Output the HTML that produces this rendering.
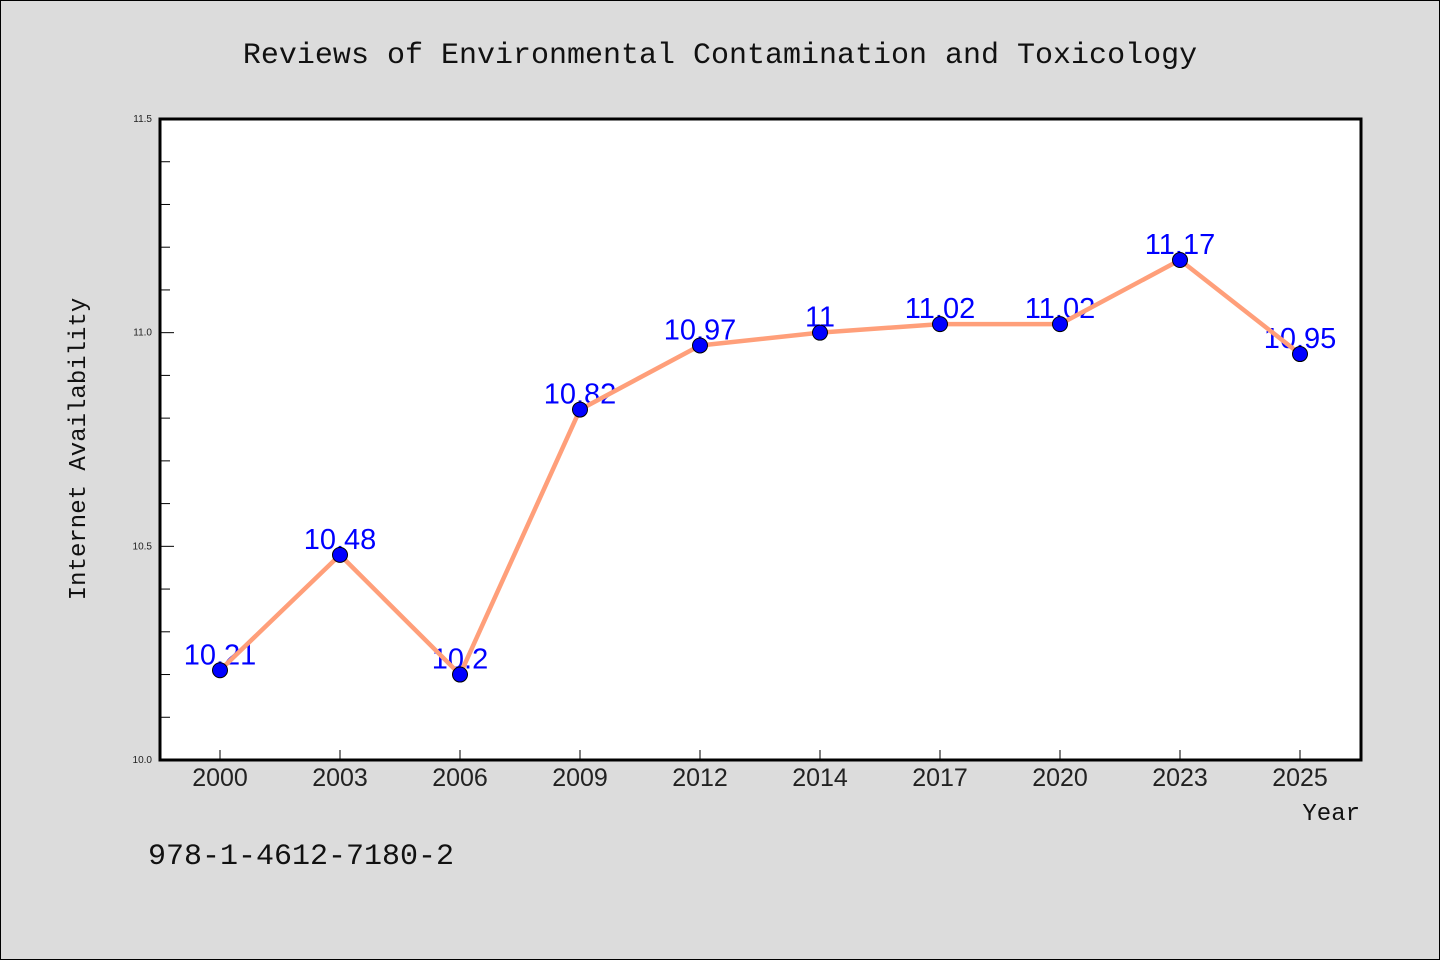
<!DOCTYPE html>
<html><head><meta charset="utf-8"><style>
html,body{margin:0;padding:0;background:#dcdcdc}
svg{display:block;font-family:"Liberation Sans",sans-serif}
.mono{font-family:"Liberation Mono",monospace}
</style></head><body>
<svg id="c" width="1440" height="960">
<rect x="0.5" y="0.5" width="1439" height="959" fill="#dcdcdc" stroke="#000"/>
<text class="mono" x="720" y="63" text-anchor="middle" font-size="30" fill="#111">Reviews of Environmental Contamination and Toxicology</text>
<rect x="160" y="119" width="1201" height="641" fill="#fff"/>
<g id="g"></g>
<rect x="160" y="119" width="1201" height="641" fill="none" stroke="#000" stroke-width="3"/>
<text class="mono" x="85" y="449" transform="rotate(-90 85 449)" text-anchor="middle" font-size="24" fill="#111">Internet Availability</text>
<text class="mono" x="1360" y="820" text-anchor="end" font-size="24" fill="#111">Year</text>
<text class="mono" x="148" y="864" font-size="30" fill="#111">978-1-4612-7180-2</text>
</svg>
<script>
const categories=["2000","2003","2006","2009","2012","2014","2017","2020","2023","2025"];
const values=[10.21,10.48,10.2,10.82,10.97,11,11.02,11.02,11.17,10.95];
const labels=["10.21","10.48","10.2","10.82","10.97","11","11.02","11.02","11.17","10.95"];
const yTicks=["10.0","10.5","11.0","11.5"];
const ns="http://www.w3.org/2000/svg";
const g=document.getElementById('g');
const x0=160,x1=1361,yTop=119,yBot=760,ymin=10,ymax=11.5;
const xs=i=>220+i*120;
const ys=v=>yBot-(v-ymin)/(ymax-ymin)*(yBot-yTop);
function mk(t,a){const e=document.createElementNS(ns,t);for(const k in a)e.setAttribute(k,a[k]);g.appendChild(e);return e;}
for(let k=0;k<=15;k++){const v=ymin+k*0.1;const y=ys(v);const maj=k%5===0;
 const t=mk('line',{x1:x0,x2:x0+(maj?14:10),y1:y,y2:y,stroke:'#000','stroke-width':1});
 
 }
yTicks.forEach(s=>{const e=mk('text',{x:152,y:ys(+s)+3,'text-anchor':'end','font-size':10,fill:'#222'});e.textContent=s;
 
 });
categories.forEach((c,i)=>{const t=mk('line',{x1:xs(i),x2:xs(i),y1:yBot,y2:yBot-10,stroke:'#000','stroke-width':1});
 
 
 const e=mk('text',{x:xs(i),y:786,'text-anchor':'middle','font-size':25,fill:'#222'});e.textContent=c;
 
 });
values.forEach((v,i)=>{const e=mk('text',{x:xs(i),y:ys(v)-6,'text-anchor':'middle','font-size':29,fill:'#0000ff'});e.textContent=labels[i];
 
 });
const p=mk('polyline',{points:values.map((v,i)=>xs(i)+','+ys(v)).join(' '),fill:'none',stroke:'#ff9f7a','stroke-width':4.5,'stroke-linejoin':'round'});


values.forEach((v,i)=>{const c=mk('circle',{cx:xs(i),cy:ys(v),r:7.5,fill:'#0000ff',stroke:'#000','stroke-width':1});
 
 });
</script>
</body></html>
